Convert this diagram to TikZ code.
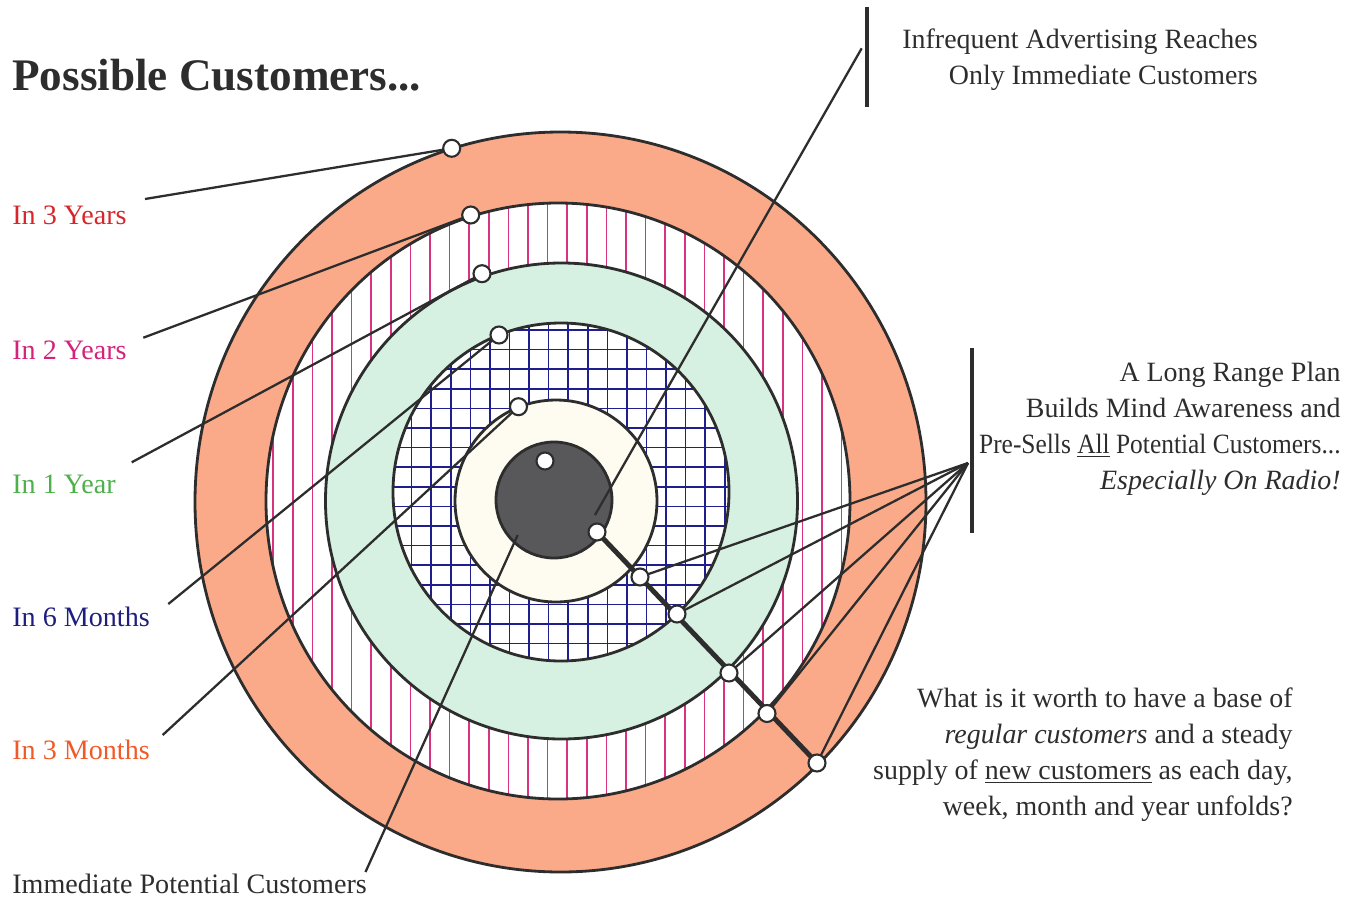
\documentclass[tikz,border=0pt]{standalone}
\usepackage{fontspec}
\setmainfont{Liberation Serif}
\usepackage{graphicx}
\usetikzlibrary{positioning}

\definecolor{salmon}{RGB}{250,170,137}
\definecolor{mint}{RGB}{214,240,225}
\definecolor{cream}{RGB}{254,252,240}
\definecolor{core}{RGB}{88,87,90}
\definecolor{navy}{RGB}{30,30,140}
\definecolor{hatch}{RGB}{216,50,130}
\definecolor{ink}{RGB}{45,45,45}
\definecolor{yr3}{RGB}{215,38,42}
\definecolor{yr2}{RGB}{212,35,122}
\definecolor{yr1}{RGB}{79,175,74}
\definecolor{mo6}{RGB}{30,30,126}
\definecolor{mo3}{RGB}{240,90,40}

\begin{document}
\begin{tikzpicture}[x=0.02cm,y=-0.02cm,
  ring/.style={draw=ink, line width=1.6pt},
  leader/.style={ink, line width=1.3pt},
  sidebar/.style={ink, line width=2.3pt},
  timetext/.style={anchor=base west, inner sep=0pt, font=\fontsize{16}{20}\selectfont},
  blocktext/.style={align=right, anchor=north east, inner sep=0pt, text=ink, font=\fontsize{15.9}{20.4}\selectfont}]

\useasboundingbox (0,0) rectangle (1360,900);

% rings, from the outside in
\fill[salmon] (560.5,502) ellipse (365.5 and 370);
\fill[white] (558,501) ellipse (292 and 298);
\begin{scope}
\clip (558,501) ellipse (292 and 298);
\foreach \k in {-8,...,21}
    \draw[hatch, line width=1pt] ({430+19.6*\k},190) -- ({430+19.6*\k},810);
\end{scope}
\fill[mint] (561.5,501) ellipse (236 and 238);
\fill[white] (561,492) ellipse (168 and 169);
\begin{scope}
\clip (561,492) ellipse (168 and 169);
\foreach \k in {-1,...,17} {
    \draw[navy, line width=0.9pt] ({411.7+19.57*\k},320) -- ({411.7+19.57*\k},670);
    \draw[navy, line width=0.9pt] (385,{330+19.6*\k}) -- (740,{330+19.6*\k});
}
\end{scope}
\fill[cream] (556,501) circle (101);
\fill[core] (554,500) circle (58);

\draw[ring] (560.5,502) ellipse (365.5 and 370);
\draw[ring] (558,501) ellipse (292 and 298);
\draw[ring] (561.5,501) ellipse (236 and 238);
\draw[ring] (561,492) ellipse (168 and 169);
\draw[ring] (556,501) circle (101);
\draw[ring] (554,500) circle (58);

% points on the rings
\coordinate (d3y) at (451.7,148.3);
\coordinate (d2y) at (470.7,215);
\coordinate (d1y) at (482,273.7);
\coordinate (d6m) at (499,335);
\coordinate (d3m) at (518.5,406.7);
\coordinate (dcore) at (545,461);
\coordinate (r0) at (597,532);
\coordinate (r1) at (640,577);
\coordinate (r2) at (677,614);
\coordinate (r3) at (729,673);
\coordinate (r4) at (767,713.5);
\coordinate (r5) at (817,763);

% left labels
\node[anchor=base west, inner sep=0pt, text=ink, font=\fontsize{25.7}{30}\selectfont\bfseries] (title) at (12,90.7) {Possible Customers...};
\node[timetext, text=yr3] (y3) at (12,224) {In 3 Years};
\node[timetext, text=yr2] (y2) at (12,359) {In 2 Years};
\node[timetext, text=yr1] (y1) at (12,493) {In 1 Year};
\node[timetext, text=mo6] (m6) at (12,626) {In 6 Months};
\node[timetext, text=mo3] (m3) at (12,759.5) {In 3 Months};
\node[timetext, text=ink] (imm) at (12,893) {Immediate Potential Customers};

\coordinate (y3end) at (145,199);
\coordinate (y2end) at (143.3,337.7);
\coordinate (y1end) at (131.7,462.3);
\coordinate (m6end) at (168.3,604);
\coordinate (m3end) at (162.7,735);
\coordinate (immend) at (365.5,872);
\coordinate (immtip) at (517.7,535);

\draw[leader] (y3end) -- (d3y);
\draw[leader] (y2end) -- (d2y);
\draw[leader] (y1end) -- (d1y);
\draw[leader] (m6end) -- (d6m);
\draw[leader] (m3end) -- (d3m);
\draw[leader] (immend) -- (immtip);

% right side texts and bars
\node[blocktext] (infrequent) at (1258,28.5) {Infrequent Advertising Reaches\\Only Immediate Customers};
\node[blocktext] (plan) at (1341,362) {A Long Range Plan\\Builds Mind Awareness and\\\scalebox{0.91}[1]{Pre-Sells \underline{All} Potential Customers...}\\\textit{Especially On Radio!}};
\node[blocktext] (worth) at (1293,687.5) {What is it worth to have a base of\\\textit{regular customers} and a steady\\supply of \underline{new customers} as each day,\\week, month and year unfolds?};

\coordinate (bar1top) at (866.7,7);
\coordinate (bar1bot) at (866.7,107);
\coordinate (bar2top) at (972,348);
\coordinate (bar2bot) at (972,533);
\draw[sidebar] (bar1top) -- (bar1bot);
\draw[sidebar] (bar2top) -- (bar2bot);

\coordinate (infstart) at (861.7,48.3);
\coordinate (inftip) at (595,515);
\draw[leader] (infstart) -- (inftip);

\coordinate (fan) at (968,463);
\foreach \point in {r1,r2,r3,r4,r5}
    \draw[leader] (fan) -- (\point);

\draw[ink, line width=2.8pt] (r0) -- (r5);

\foreach \point in {d3y,d2y,d1y,d6m,d3m,dcore,r0,r1,r2,r3,r4,r5}
    \filldraw[fill=white, draw=ink, line width=1.2pt] (\point) circle (8.5);
\end{tikzpicture}
\end{document}
